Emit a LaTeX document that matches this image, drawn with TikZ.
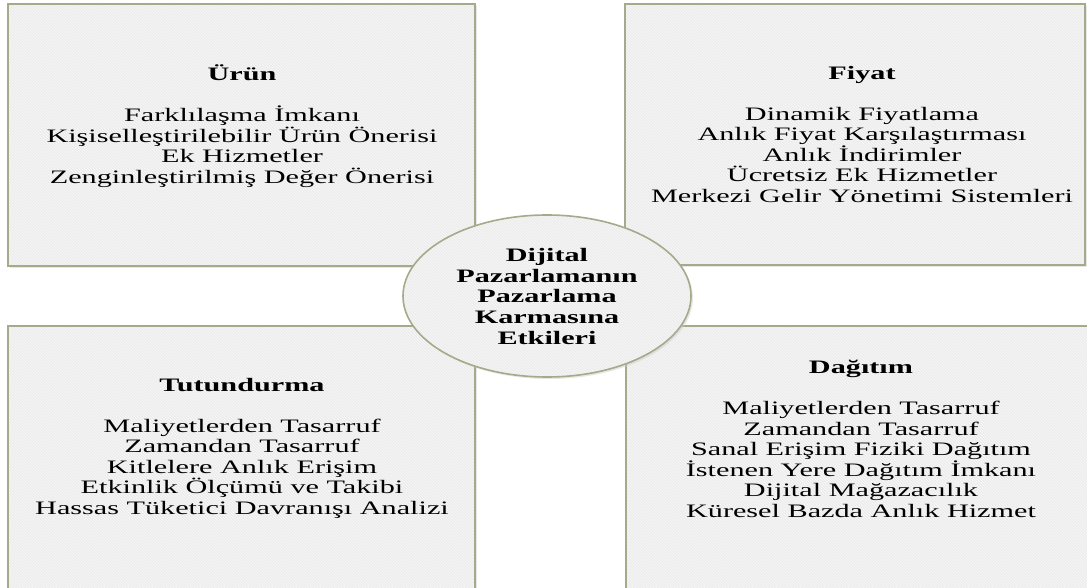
\documentclass[tikz,border=0pt]{standalone}
\usepackage{fontspec}
\setmainfont{Liberation Serif}[FakeStretch=1.59]
\usetikzlibrary{shapes.geometric,patterns}

\definecolor{edgeolive}{HTML}{A4AA8A}
\definecolor{panelgray}{HTML}{ECECEC}
\definecolor{shadowgray}{HTML}{CFCFCF}

\tikzset{
  panel/.style={draw=edgeolive, line width=1.6pt,
    preaction={fill=panelgray},
    pattern=north west lines, pattern color=white!70!panelgray,
    inner sep=0pt, outer sep=0pt},
  shade/.style={fill=shadowgray, draw=none, opacity=0.5},
  paneltext/.style={align=center, inner sep=0pt,
    font=\fontsize{19pt}{20.5pt}\selectfont},
}

\begin{document}
\begin{tikzpicture}[x=1pt, y=-1pt]
  \useasboundingbox (0,0) rectangle (1087,588);
  \begin{scope}
    \clip (0,0) rectangle (1087,588);

    % soft shadows under the four panels
    \fill[shade] (10,6) rectangle (477,268);
    \fill[shade] (627,6) rectangle (1087,267);
    \fill[shade] (10,328) rectangle (477,600);
    \fill[shade] (628,328) rectangle (1090,600);

    % the four panels
    \node[panel, minimum width=467pt, minimum height=262pt, anchor=north west]
      (urunbox) at (8,4) {};
    \node[panel, minimum width=460pt, minimum height=261pt, anchor=north west]
      (fiyatbox) at (625,4) {};
    \node[panel, minimum width=467pt, minimum height=280pt, anchor=north west]
      (tutbox) at (8,326) {};
    \node[panel, minimum width=470pt, minimum height=280pt, anchor=north west]
      (dagbox) at (626,326) {};

    % panel contents
    \node[paneltext] (urun) at (242,126)
      {\textbf{Ürün}\\[20.5pt]
       Farklılaşma İmkanı\\
       Kişiselleştirilebilir Ürün Önerisi\\
       Ek Hizmetler\\
       Zenginleştirilmiş Değer Önerisi};
    \node[paneltext] (fiyat) at (862,134.5)
      {\textbf{Fiyat}\\[20.5pt]
       Dinamik Fiyatlama\\
       Anlık Fiyat Karşılaştırması\\
       Anlık İndirimler\\
       Ücretsiz Ek Hizmetler\\
       Merkezi Gelir Yönetimi Sistemleri};
    \node[paneltext] (tut) at (242,448)
      {\textbf{Tutundurma}\\[20.5pt]
       Maliyetlerden Tasarruf\\
       Zamandan Tasarruf\\
       Kitlelere Anlık Erişim\\
       Etkinlik Ölçümü ve Takibi\\
       Hassas Tüketici Davranışı Analizi};
    \node[paneltext] (dag) at (861,439)
      {\textbf{Dağıtım}\\[20.5pt]
       Maliyetlerden Tasarruf\\
       Zamandan Tasarruf\\
       Sanal Erişim Fiziki Dağıtım\\
       İstenen Yere Dağıtım İmkanı\\
       Dijital Mağazacılık\\
       Küresel Bazda Anlık Hizmet};

    % central ellipse
    \fill[shade] (549,298) ellipse [x radius=144, y radius=81];
    \node[panel, ellipse, minimum width=288pt, minimum height=162pt]
      (center) at (547,296) {};
    \node[paneltext, font=\bfseries\fontsize{19pt}{20.7pt}\selectfont]
      (centertext) at (547,296.5)
      {Dijital\\ Pazarlamanın\\ Pazarlama\\ Karmasına\\ Etkileri};
  \end{scope}
\end{tikzpicture}
\end{document}
